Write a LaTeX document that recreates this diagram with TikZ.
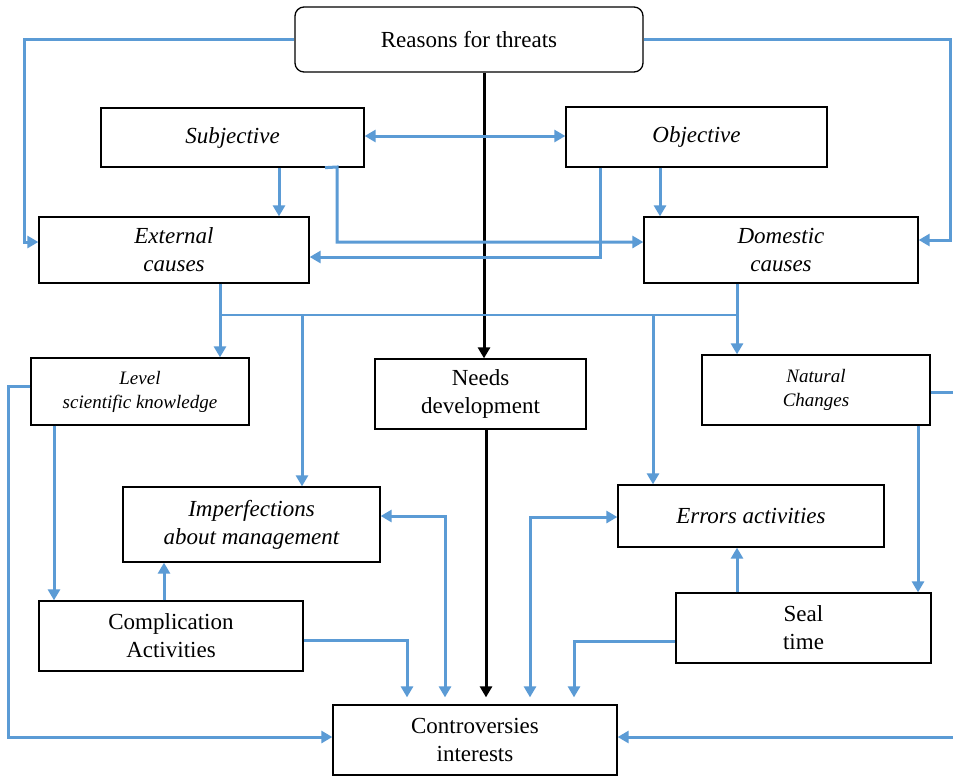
\documentclass[tikz,border=0pt]{standalone}
\usepackage{fontspec}
\setmainfont{Liberation Serif}
\usetikzlibrary{arrows.meta,calc}
\definecolor{blu}{RGB}{91,155,213}
\tikzset{
  tip/.tip={Triangle[length=11pt,width=12pt]},
  box/.style={draw=black,line width=1.3pt,inner sep=0pt,align=center,
    font=\fontsize{23}{28}\selectfont},
  itbox/.style={box,font=\fontsize{23}{28}\selectfont\itshape},
  smallit/.style={box,font=\fontsize{19}{24}\selectfont\itshape},
  bl/.style={draw=blu,line width=3pt,line join=miter,-tip},
  bld/.style={draw=blu,line width=3pt,line join=miter,tip-tip},
  blthin/.style={draw=blu,line width=1.6pt},
  blplain/.style={draw=blu,line width=3pt,line join=miter},
  blk/.style={draw=black,line width=3pt,-tip},
}
\begin{document}
\begin{tikzpicture}[x=1pt,y=-1pt]
\useasboundingbox (0,0) rectangle (953,777);
\fill[white] (0,0) rectangle (953,777);

% nodes
\node[box,rounded corners=9pt,minimum width=348pt,minimum height=65pt] (reasons) at (469,39.5) {Reasons for threats};
\node[itbox,minimum width=263pt,minimum height=59pt] (subj) at (232.5,137.5) {Subjective};
\node[itbox,minimum width=261pt,minimum height=60pt] (obj) at (696.5,137) {Objective};
\node[itbox,minimum width=270pt,minimum height=66pt] (ext) at (174,250) {External\\causes};
\node[itbox,minimum width=274pt,minimum height=66pt] (dom) at (781,250) {Domestic\\causes};
\node[smallit,minimum width=218pt,minimum height=67pt] (level) at (140,391.5) {Level\\scientific knowledge};
\node[box,minimum width=211pt,minimum height=70pt] (needs) at (480.5,394) {Needs\\development};
\node[smallit,minimum width=228pt,minimum height=70pt] (nat) at (816,390) {Natural\\Changes};
\node[itbox,minimum width=257pt,minimum height=75pt] (imp) at (251.5,524.5) {Imperfections\\about management};
\node[itbox,minimum width=266pt,minimum height=62pt] (err) at (751,516) {Errors activities};
\node[box,minimum width=264pt,minimum height=70pt] (comp) at (171,636) {Complication\\Activities};
\node[box,minimum width=255pt,minimum height=70pt] (seal) at (803.5,628) {Seal\\time};
\node[box,minimum width=284pt,minimum height=70pt] (contr) at (475,740) {Controversies\\interests};

\coordinate (hl) at (220,315);
\coordinate (hr) at (737,315);

% black spine
\draw[blk] (reasons.south -| 484,0) -- (needs.north -| 484,0);
\draw[blk,shorten >=7pt] (needs.south -| 486,0) -- (contr.north -| 486,0);

% top connectors
\draw[bl] (reasons.west) -- (24,39.5) -- (24,242) -- (ext.west |- 0,242);
\draw[bl] (reasons.east) -- (950,39.5) -- (950,240) -- (dom.east |- 0,240);
\draw[bld] (subj.east |- 0,136) -- (obj.west |- 0,136);
\draw[bl] (subj.south -| 279,0) -- (ext.north -| 279,0);
\draw[bl] (subj.south -| 325,0) -- (337,167) -- (337,242) -- (dom.west |- 0,242);
\draw[bl] (obj.south -| 600,0) -- (600,257) -- (ext.east |- 0,257);
\draw[bl] (obj.south -| 660,0) -- (dom.north -| 660,0);

% middle distribution
\draw[blplain] (ext.south -| 220,0) -- (hl);
\draw[blthin] (hl) -- (hr);
\draw[bl] (hl) -- (level.north -| hl);
\draw[bl] (302,315) -- (imp.north -| 302,0);
\draw[bl] (653,315) -- (err.north -| 653,0);
\draw[bl] (dom.south -| hr) -- (nat.north -| hr);

% left side
\draw[bl] (level.west |- 0,386) -- (8,386) -- (8,737) -- (contr.west |- 0,737);
\draw[bl] (level.south -| 54,0) -- (comp.north -| 54,0);
\draw[bl] (comp.north -| 164,0) -- (imp.south -| 164,0);
\draw[bl,shorten >=7pt] (comp.east |- 0,640) -- (407,640) -- (contr.north -| 407,0);
\draw[bld,shorten >=7pt] (imp.east |- 0,516) -- (445,516) -- (contr.north -| 445,0);

% right side
\draw[bld,shorten >=7pt] (err.west |- 0,517) -- (530,517) -- (contr.north -| 530,0);
\draw[bl,shorten >=7pt] (seal.west |- 0,641) -- (574,641) -- (contr.north -| 574,0);
\draw[bl] (seal.north -| 737,0) -- (err.south -| 737,0);
\draw[bl] (nat.south -| 918,0) -- (seal.north -| 918,0);
\draw[bl] (nat.east |- 0,392) -- (960,392) -- (960,737) -- (contr.east |- 0,737);
\end{tikzpicture}
\end{document}
